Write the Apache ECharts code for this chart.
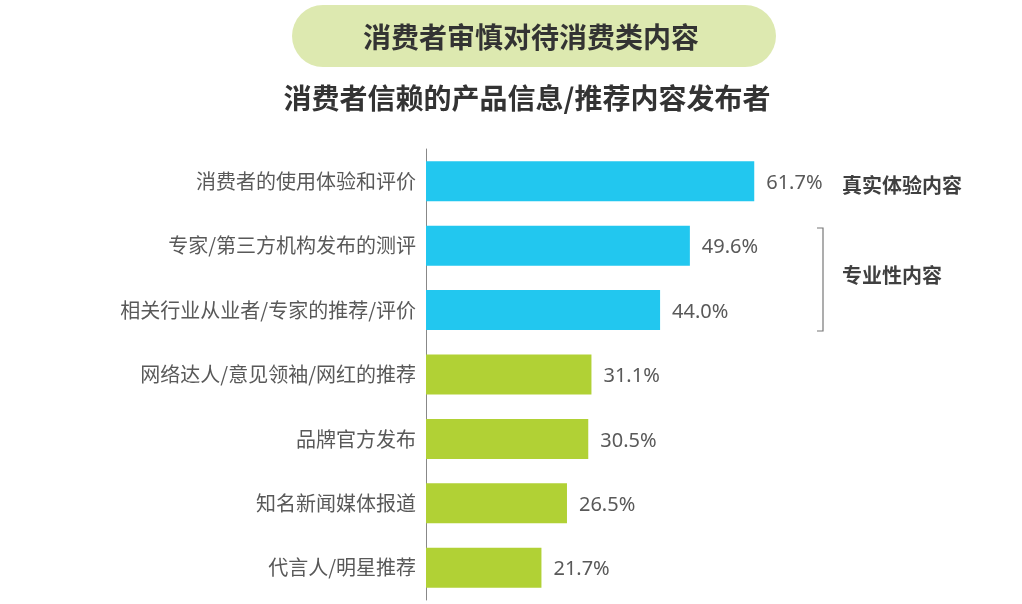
<!DOCTYPE html>
<html><head><meta charset="utf-8">
<script src="https://cdn.jsdelivr.net/npm/echarts@6/dist/echarts.min.js"></script>
<style>html,body{margin:0;padding:0;background:#fff}#c{width:1022px;height:604px}</style>
</head><body><div id="c"></div>
<script>
const titleText = '消费者审慎对待消费类内容';
const subtitleText = '消费者信赖的产品信息/推荐内容发布者';
const categories = ['消费者的使用体验和评价','专家/第三方机构发布的测评','相关行业从业者/专家的推荐/评价','网络达人/意见领袖/网红的推荐','品牌官方发布','知名新闻媒体报道','代言人/明星推荐'];
const values = [61.7, 49.6, 44.0, 31.1, 30.5, 26.5, 21.7];
const groups = ['blue','blue','blue','green','green','green','green'];
const annotations = ['真实体验内容','专业性内容'];

const colorMap = {blue:'#22c7ef', green:'#b1d135'};
const cjk = '"Noto Sans CJK SC", sans-serif';

const chart = echarts.init(document.getElementById('c'));
chart.setOption({
  animation:false,
  backgroundColor:'#fff',
  grid:{left:426, top:149, width:532, height:451},
  xAxis:{type:'value', min:0, max:100, show:false},
  yAxis:{type:'category', data:categories, inverse:true,
    axisLine:{show:true, lineStyle:{color:'#888', width:1}},
    axisTick:{show:false},
    axisLabel:{color:'#595959', fontSize:20, fontFamily:cjk, margin:10}
  },
  series:[{
    type:'bar', barWidth:40,
    data: values.map((v,i)=>({value:v, itemStyle:{color:colorMap[groups[i]]}})),
    label:{show:true, position:'right', distance:12, color:'#595959', fontSize:20,
      fontFamily:'"Noto Sans", sans-serif', offset:[0,2], formatter:p=>p.value.toFixed(1)+'%'}
  }],
  graphic:[
    {type:'rect', shape:{x:292, y:5, width:484, height:62, r:31}, style:{fill:'#dde9b0'}},
    {type:'text', x:531, y:37, style:{text:titleText, fill:'#333', font:'bold 28px '+cjk, align:'center', verticalAlign:'middle'}},
    {type:'text', x:527, y:98, style:{text:subtitleText, fill:'#333', font:'bold 28px '+cjk, align:'center', verticalAlign:'middle'}},
    {type:'text', x:842, y:185, style:{text:annotations[0], fill:'#404040', font:'bold 20px '+cjk, align:'left', verticalAlign:'middle'}},
    {type:'text', x:842, y:275, style:{text:annotations[1], fill:'#404040', font:'bold 20px '+cjk, align:'left', verticalAlign:'middle'}},
    {type:'polyline', shape:{points:[[817,228],[823,228],[823,331],[817,331]]}, style:{stroke:'#777', lineWidth:1.2, fill:null}}
  ]
});
</script></body></html>
